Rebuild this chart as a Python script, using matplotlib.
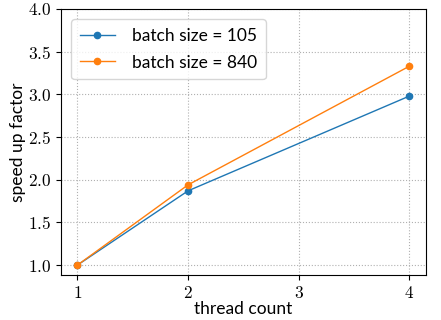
import matplotlib
matplotlib.use("Agg")
import matplotlib.pyplot as plt
from matplotlib.ticker import FuncFormatter

threads = [1, 2, 4]
speedup_105 = [1.0, 1.87, 2.98]
speedup_840 = [1.0, 1.94, 3.33]
labels = ["batch size = 105", "batch size = 840"]
xticks = [1, 2, 3, 4]
yticks = [1.0, 1.5, 2.0, 2.5, 3.0, 3.5, 4.0]

plt.rcParams['mathtext.fontset'] = 'cm'
plt.rcParams['font.family'] = ['Lato', 'DejaVu Sans']

fig = plt.figure(figsize=(4.41, 3.2), dpi=100)
ax = fig.add_axes([0.138, 0.1406, 0.828, 0.8313])
ax.plot(threads, speedup_105, marker='o', markersize=4.5, lw=1.0, color='#1f77b4', label=labels[0])
ax.plot(threads, speedup_840, marker='o', markersize=4.5, lw=1.0, color='#ff7f0e', label=labels[1])
ax.set_ylim(top=4.0)
ax.set_xticks(xticks)
ax.set_yticks(yticks)
ax.xaxis.set_major_formatter(FuncFormatter(lambda v, p: r'$%d$' % v))
ax.yaxis.set_major_formatter(FuncFormatter(lambda v, p: r'$%.1f$' % v))
ax.tick_params(labelsize=12.5, length=3.5)
ax.grid(True, linestyle=':', color='#b0b0b0', lw=0.8)
ax.set_xlabel('thread count', fontsize=12.5, labelpad=0)
ax.set_ylabel('speed up factor', fontsize=12.5, labelpad=1)
ax.legend(loc='upper left', fontsize=12.5, handlelength=2.0, handletextpad=1.0,
          labelspacing=0.6, borderaxespad=0.6, borderpad=0.5)
fig.savefig('out.png', dpi=100)
